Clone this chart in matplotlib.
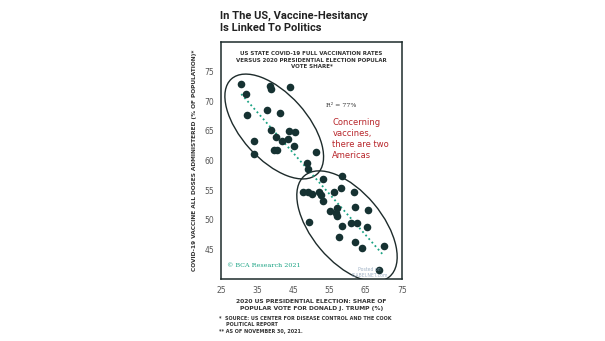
import numpy as np
import matplotlib
matplotlib.use("Agg")
import matplotlib.pyplot as plt
from matplotlib.patches import Ellipse
from matplotlib import transforms

# vote share for Trump (%) vs. vaccine doses administered (% of population)
vote_share = [30.6, 32.0, 32.1, 34.1, 34.1, 38.4, 38.9, 44.0, 37.6, 41.3,
              38.7, 40.3, 41.8, 39.7, 40.6, 43.4, 43.9, 45.4, 45.3, 51.2,
              48.8, 48.9,
              47.7, 49.0, 50.0, 52.2, 52.7, 53.1, 53.3, 56.1, 55.2, 57.0,
              56.9, 57.0, 58.1, 58.5, 58.5, 49.2, 57.6, 61.8, 62.1, 60.8,
              62.5, 65.5, 65.3, 62.1, 64.0, 69.9, 68.7]
vaccinated = [72.9, 71.2, 67.6, 63.2, 61.0, 72.6, 72.0, 72.3, 68.5, 67.9,
              65.1, 64.0, 63.3, 61.7, 61.8, 63.6, 65.0, 64.8, 62.5, 61.4,
              59.5, 58.5,
              54.6, 54.7, 54.3, 54.6, 54.2, 56.8, 53.1, 54.7, 51.4, 52.0,
              51.2, 50.7, 55.3, 57.4, 49.0, 49.6, 47.0, 54.7, 52.2, 49.5,
              49.4, 51.6, 48.7, 46.2, 45.3, 45.6, 41.6]

x_ticks = [25, 35, 45, 55, 65, 75]
y_ticks = [45, 50, 55, 60, 65, 70, 75]

# (center x, center y, width px, height px, angle)
clusters = [(39.7, 65.7, 128, 66, -48),
            (59.8, 48.9, 132, 70, -50)]

dark = "#1d2b2b"
teal = "#1aa383"
red = "#b8262b"

fig = plt.figure(figsize=(6.05, 3.41), dpi=100)
ax = fig.add_axes([0.3653, 0.1818, 0.2992, 0.696])

x = np.array(vote_share)
y = np.array(vaccinated)
ax.scatter(x, y, s=30, color="#163232", zorder=3, linewidths=0)

slope, intercept = np.polyfit(x, y, 1)
xs = np.array([30.6, 70.0])
ax.plot(xs, slope * xs + intercept, linestyle=(0, (1, 1.6)), color=teal,
        linewidth=1.3, zorder=2)

for cx, cy, w, h, ang in clusters:
    tr = fig.dpi_scale_trans + transforms.ScaledTranslation(cx, cy, ax.transData)
    ax.add_patch(Ellipse((0, 0), w / 100, h / 100, angle=ang, transform=tr,
                         fill=False, edgecolor=dark, linewidth=1.0, zorder=1))

ax.set_xlim(25, 75)
ax.set_ylim(40, 80)
ax.set_xticks(x_ticks)
ax.set_yticks(y_ticks)
ax.tick_params(length=0, labelsize=5.5, colors="#555555", pad=5)
for s in ax.spines.values():
    s.set_color(dark)
    s.set_linewidth(1.1)

ax.text(0.5, 0.96, "US STATE COVID-19 FULL VACCINATION RATES\n"
        "VERSUS 2020 PRESIDENTIAL ELECTION POPULAR\nVOTE SHARE*",
        transform=ax.transAxes, ha="center", va="top", fontsize=4.0,
        fontweight="bold", color="#333333", linespacing=1.35)
ax.text(0.58, 0.725, "R² = 77%", transform=ax.transAxes, fontsize=4.5,
        color="#333333", family="DejaVu Serif")
ax.text(0.615, 0.68, "Concerning\nvaccines,\nthere are two\nAmericas",
        transform=ax.transAxes, ha="left", va="top", fontsize=6,
        color=red, linespacing=1.3)
ax.text(0.035, 0.05, "© BCA Research 2021", transform=ax.transAxes,
        fontsize=4.6, color=teal, family="DejaVu Serif")
ax.text(0.82, 0.005, "Posted on\nISABELNET.com", transform=ax.transAxes,
        fontsize=3.3, color="#8aa0b8", ha="center", va="bottom", alpha=0.8)

ax.set_ylabel("COVID-19 VACCINE ALL DOSES ADMINISTERED (% OF POPULATION)*",
              fontsize=4.2, fontweight="bold", color="#333333", labelpad=5)
ax.set_xlabel("2020 US PRESIDENTIAL ELECTION: SHARE OF\n"
              "POPULAR VOTE FOR DONALD J. TRUMP (%)",
              fontsize=4.3, fontweight="bold", color="#333333", labelpad=3,
              linespacing=1.4)

fig.text(0.364, 0.97, "In The US, Vaccine-Hesitancy\nIs Linked To Politics",
         ha="left", va="top", fontsize=8.0, fontweight="bold",
         family="Roboto", color="#222222", linespacing=1.3)
fig.text(0.362, 0.02, "*  SOURCE: US CENTER FOR DISEASE CONTROL AND THE COOK\n"
         "    POLITICAL REPORT\n** AS OF NOVEMBER 30, 2021.",
         ha="left", va="bottom", fontsize=3.5, fontweight="bold",
         color="#333333", linespacing=1.45)

fig.savefig("out.png", dpi=100, facecolor="white")
